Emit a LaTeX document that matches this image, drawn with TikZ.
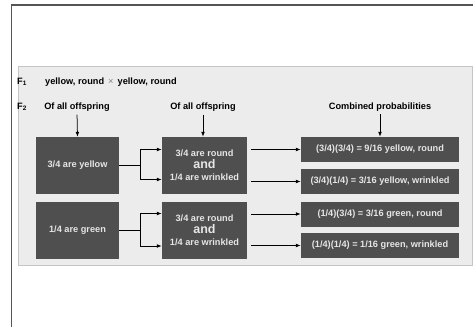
\documentclass[tikz,border=0pt]{standalone}
\usepackage{fontspec}
\setmainfont{Liberation Sans}
\usetikzlibrary{arrows.meta}
\definecolor{framegray}{HTML}{555555}
\definecolor{panelfill}{HTML}{ECECEC}
\definecolor{paneledge}{HTML}{C4C4C4}
\definecolor{boxgray}{HTML}{4F4F4F}
\definecolor{boxtext}{HTML}{E6E6E6}
\begin{document}
\begin{tikzpicture}[x=1pt,y=-1pt,
  darkbox/.style={draw=none, fill=boxgray, text=boxtext, inner sep=0pt, align=center,
    font=\bfseries\fontsize{9.2}{12}\selectfont},
  leftbox/.style={darkbox, minimum width=83pt, minimum height=57pt},
  midbox/.style={darkbox, minimum width=85pt, minimum height=57pt},
  resbox/.style={darkbox, minimum width=158pt, minimum height=25pt},
  head/.style={font=\bfseries\fontsize{9.2}{10}\selectfont, inner sep=1pt},
  arr/.style={-{Latex[length=5pt,width=3.8pt]}, line width=0.75pt, black},
  conn/.style={line width=0.75pt, black}]
  \useasboundingbox (0,0) rectangle (473,327);
  \fill[white] (0,0) rectangle (473,327);
  % outer frame
  \draw[framegray, line width=1.6pt] (11.5,327) -- (11.5,5) -- (473,5);
  % grey panel
  \draw[paneledge, fill=panelfill, line width=0.8pt] (18,66.5) rectangle (472,265);

  % generations
  \node[head, anchor=west] (f1) at (16,82) {F\textsubscript{1}};
  \node[head, anchor=west] (cross) at (44,82) {yellow, round {\color{gray}\normalfont\,×\,} yellow, round};
  \node[head, anchor=west] (f2) at (16,107) {F\textsubscript{2}};

  % column headings
  \node[head] (h1) at (77,107) {Of all offspring};
  \node[head] (h2) at (203,107) {Of all offspring};
  \node[head] (h3) at (380,107) {Combined probabilities};

  % boxes
  \node[leftbox] (yel) at (77.5,165.5) {3/4 are yellow};
  \node[leftbox] (grn) at (77.5,230) {1/4 are green};
  \node[midbox] (s1) at (204.5,165.5) {3/4 are round\\{\fontsize{12.5}{12}\selectfont and}\\1/4 are wrinkled};
  \node[midbox] (s2) at (204.5,230) {3/4 are round\\{\fontsize{12.5}{12}\selectfont and}\\1/4 are wrinkled};
  \node[resbox] (r1) at (380,149.5) {(3/4)(3/4) = 9/16 yellow, round};
  \node[resbox] (r2) at (380,181.5) {(3/4)(1/4) = 3/16 yellow, wrinkled};
  \node[resbox] (r3) at (380,214) {(1/4)(3/4) = 3/16 green, round};
  \node[resbox] (r4) at (380,245.5) {(1/4)(1/4) = 1/16 green, wrinkled};

  % heading arrows
  \draw[arr, shorten <=2pt] (h1.south) -- (yel.north);
  \draw[arr, shorten <=2pt] (h2.south) -- (h2.south |- s1.north);
  \draw[arr, shorten <=2pt] (h3.south) -- (r1.north);

  % branching connectors
  \coordinate (k1) at (140,165.5);
  \coordinate (k1a) at (140,149.5);
  \coordinate (k1b) at (140,179.5);
  \draw[conn] (yel.east) -- (k1);
  \draw[conn] (k1a) -- (k1b);
  \draw[arr] (k1a) -- (s1.west |- k1a);
  \draw[arr] (k1b) -- (s1.west |- k1b);

  \coordinate (k2) at (140,230);
  \coordinate (k2a) at (140,213.5);
  \coordinate (k2b) at (140,246);
  \draw[conn] (grn.east) -- (k2);
  \draw[conn] (k2a) -- (k2b);
  \draw[arr] (k2a) -- (s2.west |- k2a);
  \draw[arr] (k2b) -- (s2.west |- k2b);

  % arrows to combined probabilities
  \draw[arr, shorten <=4pt] (s1.east |- r1.west) -- (r1.west);
  \draw[arr, shorten <=4pt] (s1.east |- r2.west) -- (r2.west);
  \draw[arr, shorten <=4pt] (s2.east |- r3.west) -- (r3.west);
  \draw[arr, shorten <=4pt] (s2.east |- r4.west) -- (r4.west);
\end{tikzpicture}
\end{document}
